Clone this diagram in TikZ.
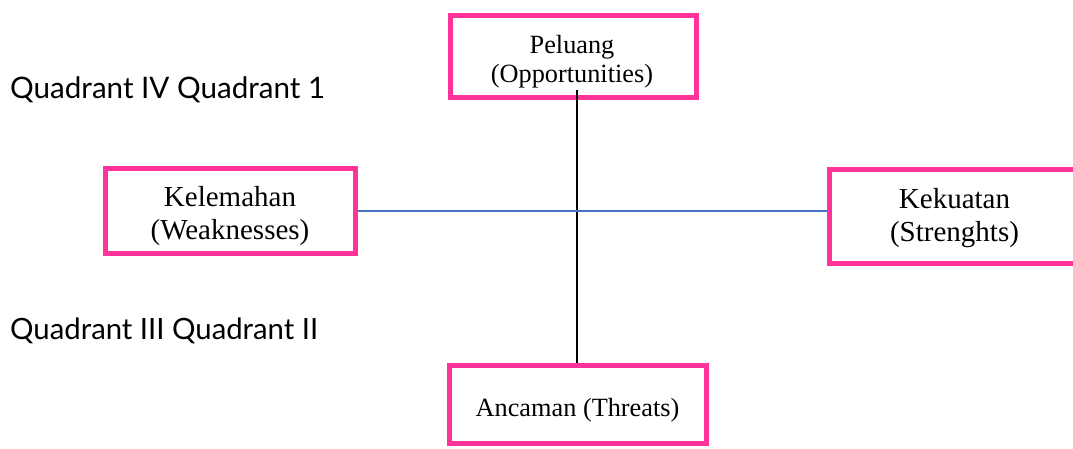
\documentclass[tikz,border=0pt]{standalone}
\usepackage{fontspec}
\setmainfont{Liberation Serif}
\newfontfamily\quadfont{Lato}
\definecolor{boxpink}{RGB}{255,51,153}
\definecolor{lineblue}{RGB}{68,114,196}
\begin{document}
\begin{tikzpicture}[x=1pt,y=-1pt,
  swotbox/.style={draw=boxpink, line width=5pt, inner sep=0pt},
  swottext/.style={align=center, inner sep=0pt},
  quadlabel/.style={anchor=base west, inner sep=0pt, font=\quadfont\fontsize{26}{30}\selectfont}]
\useasboundingbox (0,0) rectangle (1073,449);
\node[swotbox, minimum width=246pt, minimum height=82pt] (pel) at (573,57) {};
\node[swotbox, minimum width=250pt, minimum height=85pt] (kel) at (230.5,211) {};
\node[swotbox, minimum width=257pt, minimum height=94pt] (kek) at (958,216.5) {};
\node[swotbox, minimum width=257pt, minimum height=78pt] (anc) at (578,404.5) {};
\node[swottext, font=\fontsize{26.3}{29}\selectfont] (pelt) at (572,62) {Peluang\\(Opportunities)};
\node[swottext, font=\fontsize{29}{33}\selectfont] (kelt) at (230,216) {Kelemahan\\(Weaknesses)};
\node[swottext, font=\fontsize{29}{33}\selectfont] (kekt) at (954.5,218) {Kekuatan\\(Strenghts)};
\node[swottext, font=\fontsize{26.3}{30}\selectfont] (anct) at (577.5,410) {Ancaman (Threats)};
\coordinate (vtop) at (577,90);
\draw[line width=2pt, black] (vtop) -- (vtop |- anc.north);
\draw[line width=1.5pt, lineblue] (kel.east) -- (kel.east -| kek.west);
\node[quadlabel] (q14) at (10,99) {\resizebox{315pt}{!}{Quadrant IV Quadrant 1}};
\node[quadlabel] (q32) at (10,339) {\resizebox{308pt}{!}{Quadrant III Quadrant II}};
\end{tikzpicture}
\end{document}
